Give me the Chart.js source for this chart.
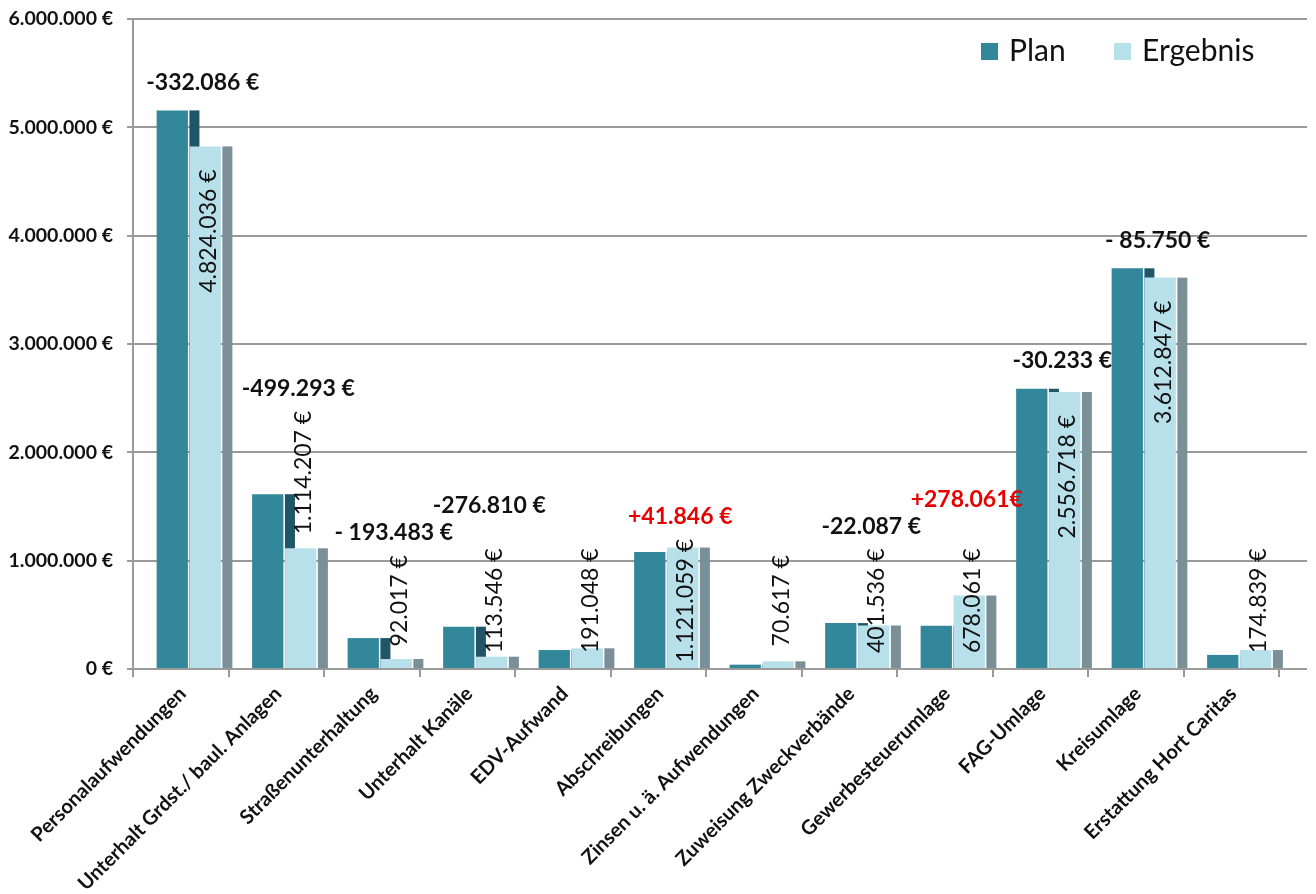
<!DOCTYPE html>
<html>
<head>
<meta charset="utf-8">
<script src="https://cdn.jsdelivr.net/npm/chart.js@4.4.2/dist/chart.umd.min.js"></script>
<style>
  html, body { margin: 0; padding: 0; background: #fff; }
  #wrap { width: 1316px; height: 894px; position: relative; }
</style>
</head>
<body>
<div id="wrap"><canvas id="chart"></canvas></div>
<script>
const kategorien = [
  'Personalaufwendungen',
  'Unterhalt Grdst./ baul. Anlagen',
  'Straßenunterhaltung',
  'Unterhalt Kanäle',
  'EDV-Aufwand',
  'Abschreibungen',
  'Zinsen u. ä. Aufwendungen',
  'Zuweisung Zweckverbände',
  'Gewerbesteuerumlage',
  'FAG-Umlage',
  'Kreisumlage',
  'Erstattung Hort Caritas'
];
const plan = [5156122, 1613500, 285500, 390356, 175000, 1079213, 40000, 423623, 400000, 2586951, 3698597, 130000];
const ergebnis = [4824036, 1114207, 92017, 113546, 191048, 1121059, 70617, 401536, 678061, 2556718, 3612847, 174839];
const abweichung = ['-332.086 €', '-499.293 €', '- 193.483 €', '-276.810 €', null, '+41.846 €', null, '-22.087 €', '+278.061€', '-30.233 €', '- 85.750 €', null];
const yTicks = [0, 1000000, 2000000, 3000000, 4000000, 5000000, 6000000];

// Label des Ergebnisses steht hier über dem Balken statt in der Mitte
const labelOben = new Set(['Unterhalt Grdst./ baul. Anlagen']);

const FONT = 'Lato';
const colors = {
  plan: '#32879b',
  planSide: '#1f5566',
  ergebnis: '#b8e0ea',
  ergebnisSide: '#7a8f96',
  grid: '#9a9a9a',
  text: '#111111',
  red: '#e60000'
};
const SHIFT = 8;   // 3D-Versatz der Balken
const DEPTH = 10;  // Breite der Seitenflaeche

const euro = v => String(v).replace(/\B(?=(\d{3})+(?!\d))/g, '.') + ' €';

function drawSides(ctx, meta, color) {
  ctx.save();
  ctx.fillStyle = color;
  meta.data.forEach(bar => {
    const x = bar.x + bar.width / 2 + 1.5;
    ctx.fillRect(x, bar.y, DEPTH, bar.base - bar.y);
  });
  ctx.restore();
}

const gridPlugin = {
  id: 'grid3d',
  beforeDatasetsDraw(chart) {
    const { ctx, chartArea } = chart;
    const y = chart.scales.y;
    ctx.save();
    ctx.strokeStyle = colors.grid;
    ctx.lineWidth = 2;
    yTicks.forEach(t => {
      const py = Math.round(y.getPixelForValue(t));
      ctx.beginPath();
      ctx.moveTo(chartArea.left, py);
      ctx.lineTo(chartArea.right + 28, py);
      ctx.stroke();
    });
    ctx.restore();
    ctx.save();
    ctx.translate(SHIFT, 0);
  },
  // Ergebnis wird zuerst gezeichnet: Seitenflaeche Plan liegt dahinter
  beforeDatasetDraw(chart, args) {
    if (args.index === 1) {
      drawSides(chart.ctx, chart.getDatasetMeta(0), colors.planSide);
    }
  },
  afterDatasetDraw(chart, args) {
    if (args.index === 1) {
      drawSides(chart.ctx, args.meta, colors.ergebnisSide);
    }
  },
  afterDatasetsDraw(chart) {
    const { ctx } = chart;
    ctx.restore();
    const y = chart.scales.y;
    const planBars = chart.getDatasetMeta(0).data;
    const ergBars = chart.getDatasetMeta(1).data;
    const diffs = [];
    ctx.save();
    ergBars.forEach((bar, i) => {
      const text = euro(ergebnis[i]);
      ctx.font = `23px ${FONT}`;
      const w = ctx.measureText(text).width;
      let start; // unteres Textende (Pixel)
      if (ergebnis[i] >= 2000000) {
        start = bar.y + 23 + w;
      } else if (labelOben.has(kategorien[i])) {
        start = bar.y - 14;
      } else {
        start = y.getPixelForValue(630000) + w / 2;
      }
      const lx = bar.x + SHIFT + 3;
      ctx.save();
      ctx.translate(lx, start);
      ctx.rotate(-Math.PI / 2);
      ctx.fillStyle = colors.text;
      ctx.textAlign = 'left';
      ctx.textBaseline = 'middle';
      ctx.fillText(text, 0, 0);
      ctx.restore();

      const d = abweichung[i];
      if (d) {
        ctx.font = `bold 23px ${FONT}`;
        const dw = ctx.measureText(d).width;
        const top = Math.min(bar.y - 28, planBars[i].y - 28, start - w - 22);
        const cx = (bar.x + planBars[i].x) / 2 + SHIFT + 14;
        let cy = top;
        const prev = diffs[diffs.length - 1];
        if (prev && cx - dw / 2 < prev.cx + prev.w / 2 && Math.abs(cy - prev.cy) < 24) {
          cy = prev.cy - 27;
        }
        diffs.push({ text: d, cx, cy, w: dw });
      }
    });
    ctx.font = `bold 23px ${FONT}`;
    ctx.textAlign = 'center';
    ctx.textBaseline = 'middle';
    diffs.forEach(d => {
      ctx.fillStyle = d.text.startsWith('+') ? colors.red : colors.text;
      ctx.fillText(d.text, d.cx, d.cy);
    });
    ctx.restore();
  },
  afterDraw(chart) {
    const { ctx, chartArea } = chart;
    ctx.save();
    ctx.font = `30px ${FONT}`;
    ctx.textBaseline = 'middle';
    const ly = 51;
    let lx = chartArea.right - 298;
    [['Plan', colors.plan], ['Ergebnis', colors.ergebnis]].forEach(([name, c]) => {
      ctx.fillStyle = c;
      ctx.fillRect(lx, ly - 8, 17, 17);
      ctx.fillStyle = colors.text;
      ctx.fillText(name, lx + 28, ly);
      lx += 133;
    });
    ctx.restore();
  }
};

new Chart(document.getElementById('chart'), {
  type: 'bar',
  data: {
    labels: kategorien,
    datasets: [
      { label: 'Plan', data: plan, backgroundColor: colors.plan },
      { label: 'Ergebnis', data: ergebnis, backgroundColor: colors.ergebnis }
    ]
  },
  options: {
    responsive: true,
    maintainAspectRatio: false,
    animation: false,
    events: [],
    categoryPercentage: 0.69,
    barPercentage: 0.95,
    layout: { padding: { top: 19, right: 37, left: 0, bottom: 0 } },
    plugins: { legend: { display: false }, tooltip: { enabled: false } },
    scales: {
      x: {
        offset: true,
        grid: { offset: true, drawOnChartArea: false, tickLength: 8, color: colors.grid, lineWidth: 2 },
        border: { display: false },
        ticks: {
          autoSkip: false,
          minRotation: 45,
          maxRotation: 45,
          labelOffset: 2,
          padding: 5,
          color: colors.text,
          font: { family: FONT, size: 20, weight: 'bold' }
        },
        afterFit(scale) { scale.height = 225; }
      },
      y: {
        min: 0,
        max: 6000000,
        afterBuildTicks(scale) { scale.ticks = yTicks.map(v => ({ value: v })); },
        grid: { drawOnChartArea: false, tickLength: 6, color: colors.grid, lineWidth: 2 },
        border: { display: true, color: colors.grid, width: 2 },
        ticks: {
          padding: 14,
          color: colors.text,
          font: { family: FONT, size: 19.5, weight: 'bold' },
          callback: v => euro(v)
        },
        afterFit(scale) {
          scale.width = 133;
          scale.paddingTop = 0;
          scale.paddingBottom = 0;
        }
      }
    }
  },
  plugins: [gridPlugin]
});
</script>
</body>
</html>
